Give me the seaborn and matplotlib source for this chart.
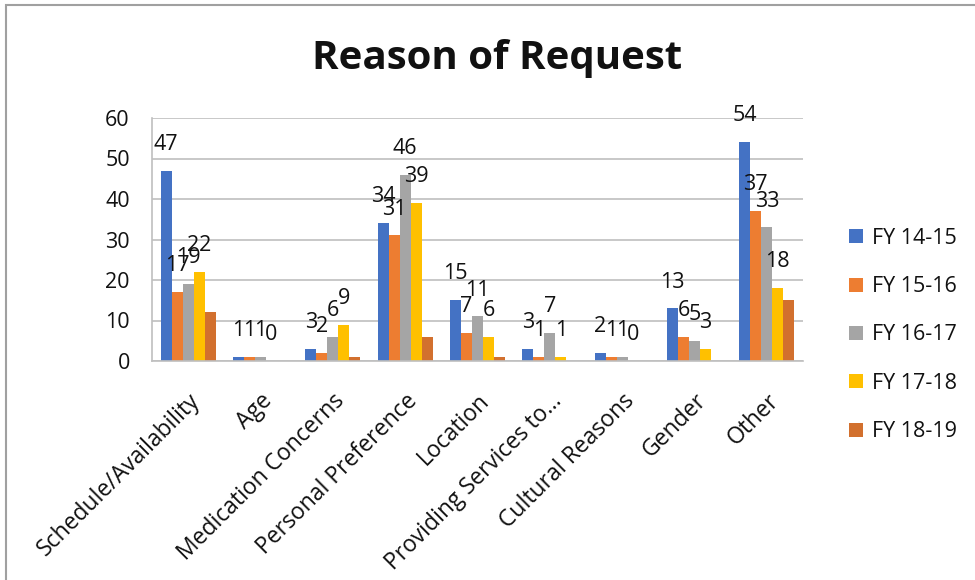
import pandas as pd
import matplotlib.pyplot as plt
import seaborn as sns

# Reason of request counts per fiscal year
reasons = ['Schedule/Availability', 'Age', 'Medication Concerns', 'Personal Preference',
           'Location', 'Providing Services to…', 'Cultural Reasons', 'Gender', 'Other']
years = ['FY 14-15', 'FY 15-16', 'FY 16-17', 'FY 17-18', 'FY 18-19']
fy_14_15 = [47, 1, 3, 34, 15, 3, 2, 13, 54]
fy_15_16 = [17, 1, 2, 31, 7, 1, 1, 6, 37]
fy_16_17 = [19, 1, 6, 46, 11, 7, 1, 5, 33]
fy_17_18 = [22, 0, 9, 39, 6, 1, 0, 3, 18]
fy_18_19 = [12, 0, 1, 6, 1, 0, 0, 0, 15]
labelled_years = ['FY 14-15', 'FY 15-16', 'FY 16-17', 'FY 17-18']

colors = ['#4472C4', '#ED7D31', '#A5A5A5', '#FFC000', '#D2702E']

series = [fy_14_15, fy_15_16, fy_16_17, fy_17_18, fy_18_19]
df = pd.DataFrame([
    {'Reason': r, 'Year': y, 'Count': v}
    for y, vals in zip(years, series)
    for r, v in zip(reasons, vals)
])

sns.set_theme(style='white')
plt.rcParams['font.family'] = ['Open Sans', 'DejaVu Sans']

fig = plt.figure(figsize=(9.75, 5.8), dpi=100)
ax = fig.add_axes([152 / 975, 1 - 361 / 580, (803 - 152) / 975, (361 - 118) / 580])

sns.barplot(data=df, x='Reason', y='Count', hue='Year', order=reasons, hue_order=years,
            palette=colors, width=0.76, linewidth=0, saturation=1, ax=ax, legend=True)

# data labels for the first four years
for cont, year in zip(ax.containers, years):
    if year not in labelled_years:
        continue
    for bar in cont:
        h = bar.get_height()
        ax.text(bar.get_x() + bar.get_width() / 2, h + 6.5, f'{h:g}',
                ha='center', va='center', fontsize=15.5, color='#111111')

grid_c = '#BFBFBF'
ax.set_ylim(0, 60)
ax.set_yticks(range(0, 61, 10))
ax.yaxis.grid(True, color=grid_c, linewidth=1.2)
ax.set_axisbelow(True)
ax.set_xlim(-0.5, len(reasons) - 0.5)
ax.set_xlabel('')
ax.set_ylabel('')
for s in ['top', 'right']:
    ax.spines[s].set_visible(False)
for s in ['left', 'bottom']:
    ax.spines[s].set_color(grid_c)
    ax.spines[s].set_linewidth(1.2)

ax.tick_params(axis='y', length=9, color=grid_c, width=1.2, labelsize=15.5, pad=7,
               labelcolor='#111111')
ax.set_xticks([i - 0.5 for i in range(len(reasons) + 1)], minor=True)
ax.tick_params(axis='x', which='minor', length=8, color=grid_c, width=1.2, direction='out')
ax.tick_params(axis='x', which='major', length=0, pad=20, labelcolor='#111111')
ax.set_xticks(range(len(reasons)))
ax.set_xticklabels(reasons, rotation=45, ha='right', rotation_mode='anchor',
                   fontsize=16.5)

fig.suptitle('Reason of Request', x=497 / 975, y=1 - 58 / 580, va='center',
             fontsize=29, fontweight='bold', color='#111111')

handles, labels = ax.get_legend_handles_labels()
ax.legend_.remove()
fig.legend(handles, labels, loc='center left', bbox_to_anchor=(830 / 975, 1 - 335 / 580),
           frameon=False, fontsize=15.5, labelspacing=1.27, handlelength=0.62,
           handleheight=0.62, handletextpad=0.45, labelcolor='#111111')

fig.patches.append(plt.Rectangle((6 / 975, -0.02), 1.0, 1 - 5 / 580 + 0.02, fill=False,
                                 edgecolor='#A0A0A0', linewidth=1.5,
                                 transform=fig.transFigure, figure=fig))

fig.savefig('out.png', dpi=100)
